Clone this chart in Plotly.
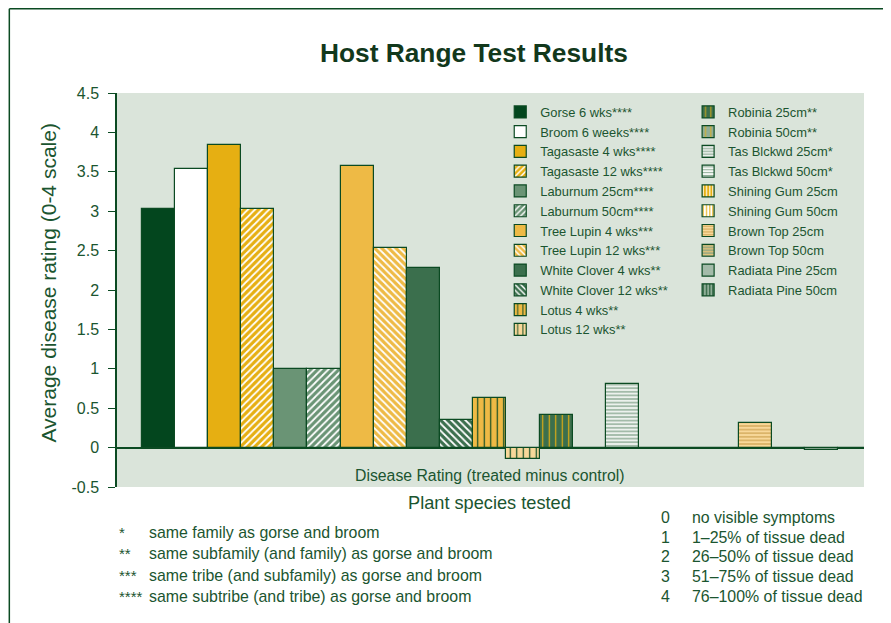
import plotly.graph_objects as go

# ---------------- data ----------------
categories = [
    "Gorse 6 wks****", "Broom 6 weeks****", "Tagasaste 4 wks****", "Tagasaste 12 wks****",
    "Laburnum 25cm****", "Laburnum 50cm****", "Tree Lupin 4 wks***", "Tree Lupin 12 wks***",
    "White Clover 4 wks**", "White Clover 12 wks**", "Lotus 4 wks**", "Lotus 12 wks**",
    "Robinia 25cm**", "Robinia 50cm**", "Tas Blckwd 25cm*", "Tas Blckwd 50cm*",
    "Shining Gum 25cm", "Shining Gum 50cm", "Brown Top 25cm", "Brown Top 50cm",
    "Radiata Pine 25cm", "Radiata Pine 50cm",
]
values = [3.03, 3.54, 3.84, 3.03, 1.0, 1.0, 3.57, 2.53, 2.28, 0.35, 0.63, -0.14,
          0.42, 0, 0.81, 0, 0, 0, 0.31, 0, -0.03, 0]

ytick_vals = [-0.5, 0, 0.5, 1, 1.5, 2, 2.5, 3, 3.5, 4, 4.5]
ytick_text = ["-0.5", "0", "0.5", "1", "1.5", "2", "2.5", "3", "3.5", "4", "4.5"]

footnote_marks = ["*", "**", "***", "****"]
footnote_texts = ["same family as gorse and broom",
                  "same subfamily (and family) as gorse and broom",
                  "same tribe (and subfamily) as gorse and broom",
                  "same subtribe (and tribe) as gorse and broom"]
scale_codes = ["0", "1", "2", "3", "4"]
scale_texts = ["no visible symptoms", "1\u201325% of tissue dead", "26\u201350% of tissue dead",
               "51\u201375% of tissue dead", "76\u2013100% of tissue dead"]

# ---------------- styles ----------------
DK = "#0b4a22"
TXT = "#1b5530"
GOLD = "#e6af12"
GOLD2 = "#eeba45"
PALE = "#f8d89a"
MID = "#6a9475"
WC = "#3b6f4d"
GG = "#8fae97"
GG2 = "#a3bba9"
WHITE = "#ffffff"

# (bg, fg, shape, size, solidity)
styles = [
    ("#03461e", None, "", 0, 0),
    (WHITE, None, "", 0, 0),
    (GOLD, None, "", 0, 0),
    (GOLD, WHITE, "/", 5, 0.35),
    (MID, None, "", 0, 0),
    (MID, WHITE, "/", 5, 0.35),
    (GOLD2, None, "", 0, 0),
    (GOLD2, WHITE, "\\", 5, 0.35),
    (WC, None, "", 0, 0),
    (WC, WHITE, "\\", 5, 0.35),
    (GOLD2, DK, "|", 6.5, 0.18),
    (PALE, DK, "|", 6.5, 0.18),
    (WC, GOLD, "|", 6.5, 0.18),
    (GG, GOLD, "|", 6.5, 0.18),
    (GG2, WHITE, "-", 3.6, 0.4),
    (WHITE, GG, "-", 3.6, 0.4),
    (GOLD, WHITE, "|", 4, 0.35),
    (WHITE, GOLD, "|", 4, 0.35),
    (PALE, "#cfa553", "-", 3.6, 0.35),
    ("#9aa982", "#e8c57a", "-", 3.6, 0.4),
    (GG2, None, "", 0, 0),
    (GG, DK, "|", 4, 0.3),
]

# page body has an 8px margin: figure origin sits at screen (8, 8)
OFF = 8
W, H = 891 - OFF, 623 - OFF
L = 116.5 - OFF
T = 93 - OFF
R = W - (864 - OFF)
B = H - (487 - OFF)
PW, PH = W - L - R, H - T - B


def px2x(sx):
    return (sx - OFF - L) / PW


def px2y(sy):
    return (H - B - (sy - OFF)) / PH


FONT = "Liberation Sans, Arial, sans-serif"

fig = go.Figure()
for i, (cat, val) in enumerate(zip(categories, values)):
    bg, fg, shape, size, sol = styles[i]
    marker = dict(color=bg, line=dict(color=DK, width=1.2))
    if shape:
        marker["pattern"] = dict(shape=shape, fgcolor=fg, bgcolor=bg, size=size,
                                 solidity=sol, fillmode="replace")
    fig.add_trace(go.Bar(
        x=[i], y=[val], name=cat, marker=marker, width=1,
        legend="legend" if i < 12 else "legend2",
        hoverinfo="name+y",
    ))

legend_font = dict(family=FONT, size=12.9, color=TXT)


def ann(text, sx, sy, size, xanchor="left", color=TXT, bold=False, angle=0):
    return dict(text=f"<b>{text}</b>" if bold else text, x=px2x(sx), y=px2y(sy),
                xref="paper", yref="paper", xanchor=xanchor, yanchor="middle",
                textangle=angle, showarrow=False,
                font=dict(family=FONT, size=size, color=color))


annotations = [
    ann("Host Range Test Results", 474, 53, 26.3, "center", "#12381c", True),
    ann("Disease Rating (treated minus control)", 490, 475, 15.8, "center"),
    ann("Plant species tested", 489, 503, 18.2, "center"),
    ann("Average disease rating (0-4 scale)", 47, 283, 21, "center", angle=-90),
]
for i, (m, t) in enumerate(zip(footnote_marks, footnote_texts)):
    yy = [532, 553, 575, 596][i]
    annotations.append(ann(m, 116, yy, 15))
    annotations.append(ann(t, 147, yy, 15.9))
for i, (c, t) in enumerate(zip(scale_codes, scale_texts)):
    yy = 517.5 + 19.7 * i
    annotations.append(ann(c, 665, yy, 15.9, "center"))
    annotations.append(ann(t, 690, yy, 15.9))

shapes = [
    dict(type="line", xref="paper", yref="paper", x0=px2x(8.75), x1=px2x(900),
         y0=px2y(8.75), y1=px2y(8.75), line=dict(color=DK, width=1.5)),
    dict(type="line", xref="paper", yref="paper", x0=px2x(8.75), x1=px2x(8.75),
         y0=px2y(8.75), y1=px2y(640), line=dict(color=DK, width=1.5)),
]

fig.update_layout(
    width=W, height=H,
    margin=dict(l=L, r=R, t=T, b=B, autoexpand=False),
    paper_bgcolor="white",
    plot_bgcolor="#dae4da",
    font=dict(family=FONT, color=TXT),
    barmode="overlay",
    bargap=0,
    xaxis=dict(range=[-1.24, 21.28], showticklabels=False, showgrid=False,
               zeroline=False, showline=False, ticks=""),
    yaxis=dict(range=[-0.5, 4.5], tickvals=ytick_vals, ticktext=ytick_text,
               showgrid=False, zeroline=True, zerolinecolor=DK, zerolinewidth=1.5,
               showline=True, linecolor=DK, linewidth=1.5,
               ticks="outside", ticklen=7, tickcolor=DK, tickwidth=1.2,
               ticklabelstandoff=6,
               tickfont=dict(family=FONT, size=16, color=TXT)),
    legend=dict(x=px2x(500), y=px2y(97), xanchor="left", yanchor="top",
                bgcolor="rgba(0,0,0,0)", font=legend_font, traceorder="normal"),
    legend2=dict(x=px2x(688), y=px2y(97), xanchor="left", yanchor="top",
                 bgcolor="rgba(0,0,0,0)", font=legend_font, traceorder="normal"),
    annotations=annotations,
    shapes=shapes,
)

fig.write_html("out.html")
